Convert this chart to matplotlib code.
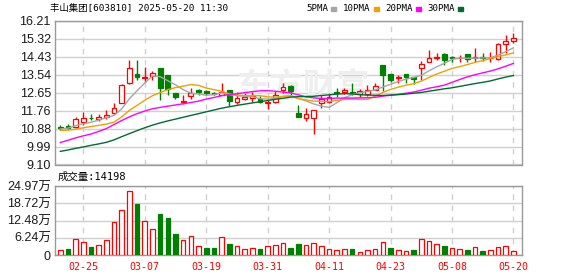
import numpy as np
import matplotlib
matplotlib.use("Agg")
import matplotlib.pyplot as plt
from matplotlib.patches import Rectangle

# trading days shown (2025)
dates = ['02-20', '02-21', '02-24', '02-25', '02-26', '02-27', '02-28',
         '03-03', '03-04', '03-05', '03-06', '03-07', '03-10', '03-11', '03-12', '03-13', '03-14',
         '03-17', '03-18', '03-19', '03-20', '03-21', '03-24', '03-25', '03-26', '03-27', '03-28',
         '03-31', '04-01', '04-02', '04-03', '04-07', '04-08', '04-09', '04-10', '04-11',
         '04-14', '04-15', '04-16', '04-17', '04-18', '04-21', '04-22', '04-23', '04-24', '04-25',
         '04-28', '04-29', '04-30', '05-06', '05-07', '05-08', '05-09', '05-12', '05-13', '05-14',
         '05-15', '05-16', '05-19', '05-20']

opens = [10.95, 11.00, 10.94, 11.19, 11.41, 11.36, 11.47, 11.63, 12.17, 13.13,
         13.58, 13.40, 13.48, 13.87, 13.53, 12.62, 12.20, 12.51, 12.80, 12.75,
         12.63, 12.55, 12.78, 12.22, 12.36, 12.40, 12.35, 12.15, 12.22, 12.80,
         12.98, 11.65, 11.42, 11.38, 12.15, 12.18, 12.68, 12.70, 12.70, 12.58,
         12.57, 12.81, 14.02, 13.58, 13.38, 13.56, 13.42, 13.86, 14.20, 14.38,
         14.57, 14.43, 14.37, 14.56, 14.40, 14.43, 14.37, 14.31, 15.05, 15.21]
highs = [11.06, 11.10, 11.47, 11.71, 11.58, 11.58, 11.80, 12.17, 13.07, 14.30,
         14.27, 13.93, 13.73, 13.90, 13.55, 12.64, 12.54, 12.91, 12.82, 12.78,
         12.70, 13.15, 12.80, 12.70, 12.63, 12.68, 12.50, 12.28, 12.72, 13.15,
         13.02, 12.03, 11.89, 11.80, 12.55, 12.62, 12.88, 12.88, 13.15, 12.85,
         13.02, 13.12, 14.05, 13.60, 13.53, 13.58, 13.45, 14.25, 14.78, 14.63,
         14.62, 14.48, 14.52, 14.58, 14.88, 14.64, 14.69, 15.10, 15.53, 15.62]
lows = [10.81, 10.86, 10.89, 11.06, 11.29, 11.26, 11.34, 11.58, 12.15, 13.10,
        13.29, 13.21, 13.31, 12.30, 12.54, 12.33, 12.12, 12.33, 12.54, 12.55,
        12.55, 12.52, 11.98, 12.10, 12.29, 12.22, 12.14, 11.85, 12.15, 12.62,
        12.55, 11.45, 11.26, 10.62, 11.90, 12.14, 12.45, 12.58, 12.52, 12.45,
        12.50, 12.78, 12.75, 13.17, 13.12, 13.15, 13.10, 13.30, 14.18, 14.30,
        14.05, 14.20, 14.20, 14.18, 14.18, 14.23, 14.18, 14.28, 14.64, 15.10]
closes = [10.92, 10.90, 11.34, 11.40, 11.38, 11.46, 11.54, 11.88, 13.05, 13.87,
          13.45, 13.43, 13.63, 12.88, 12.84, 12.46, 12.23, 12.66, 12.70, 12.62,
          12.60, 12.70, 12.25, 12.40, 12.46, 12.50, 12.18, 12.18, 12.52, 12.95,
          12.72, 11.47, 11.60, 11.78, 12.36, 12.42, 12.65, 12.78, 12.66, 12.72,
          12.81, 12.99, 13.54, 13.29, 13.42, 13.42, 13.36, 14.10, 14.40, 14.41,
          14.30, 14.36, 14.39, 14.35, 14.43, 14.36, 14.40, 15.05, 15.23, 15.37]

# volume in 万 (10k shares); 1 = red (up), 0 = green (down)
volume = [1.81, 2.17, 5.67, 4.70, 2.90, 3.50, 5.43, 11.82, 16.16, 23.04,
          18.46, 12.18, 9.29, 14.84, 13.39, 7.60, 5.31, 6.76, 3.14, 2.53,
          2.53, 6.39, 3.98, 3.38, 2.05, 2.41, 2.05, 3.38, 3.50, 4.22,
          2.53, 3.98, 3.50, 4.34, 3.26, 2.17, 1.81, 2.17, 2.17, 1.09,
          1.81, 2.17, 4.70, 2.53, 1.81, 1.45, 1.81, 5.79, 5.19, 3.98,
          3.26, 2.53, 2.17, 1.81, 2.77, 1.45, 1.81, 2.77, 3.14, 1.42]
vol_up = [1, 0, 1, 1, 0, 1, 1, 1, 1, 1, 0, 1, 1, 0, 0, 0, 1, 1, 1, 0,
          0, 1, 0, 1, 1, 1, 0, 1, 1, 1, 0, 0, 1, 1, 1, 1, 1, 1, 0, 1,
          1, 1, 1, 0, 1, 1, 0, 1, 1, 1, 0, 1, 1, 0, 1, 0, 1, 1, 1, 1]

ma5 = [10.86, 10.90, 11.03, 11.12, 11.19, 11.30, 11.42, 11.53, 11.86, 12.36,
       12.76, 13.14, 13.49, 13.45, 13.25, 13.05, 12.81, 12.63, 12.59, 12.53,
       12.56, 12.65, 12.56, 12.51, 12.48, 12.46, 12.36, 12.34, 12.37, 12.47,
       12.51, 12.37, 12.25, 12.10, 11.99, 11.93, 12.16, 12.40, 12.57, 12.65,
       12.72, 12.79, 12.94, 13.07, 13.21, 13.33, 13.41, 13.52, 13.74, 13.94,
       14.11, 14.31, 14.37, 14.36, 14.37, 14.38, 14.39, 14.52, 14.69, 14.88]
ma10 = [10.79, 10.80, 10.85, 10.92, 10.98, 11.04, 11.10, 11.20, 11.46, 11.78,
        12.03, 12.28, 12.51, 12.66, 12.81, 12.91, 12.98, 13.06, 13.02, 12.89,
        12.81, 12.73, 12.60, 12.55, 12.51, 12.51, 12.51, 12.45, 12.44, 12.48,
        12.49, 12.37, 12.30, 12.24, 12.23, 12.22, 12.27, 12.33, 12.34, 12.32,
        12.33, 12.48, 12.67, 12.82, 12.93, 13.03, 13.10, 13.23, 13.41, 13.58,
        13.72, 13.86, 13.95, 14.05, 14.16, 14.25, 14.35, 14.45, 14.53, 14.63]
ma20 = [10.19, 10.30, 10.42, 10.52, 10.61, 10.74, 10.88, 11.08, 11.28, 11.46,
        11.62, 11.75, 11.86, 11.93, 11.99, 12.05, 12.11, 12.17, 12.24, 12.34,
        12.42, 12.51, 12.56, 12.61, 12.66, 12.71, 12.75, 12.76, 12.73, 12.69,
        12.65, 12.55, 12.45, 12.40, 12.37, 12.37, 12.39, 12.39, 12.39, 12.40,
        12.41, 12.43, 12.49, 12.53, 12.58, 12.63, 12.69, 12.78, 12.88, 12.95,
        13.03, 13.17, 13.31, 13.44, 13.55, 13.64, 13.73, 13.84, 13.97, 14.11]
ma30 = [9.75, 9.82, 9.90, 9.97, 10.05, 10.12, 10.20, 10.32, 10.48, 10.63,
        10.78, 10.92, 11.05, 11.16, 11.26, 11.35, 11.44, 11.53, 11.62, 11.71,
        11.80, 11.89, 11.96, 12.03, 12.09, 12.15, 12.21, 12.27, 12.33, 12.38,
        12.44, 12.46, 12.47, 12.48, 12.52, 12.55, 12.59, 12.61, 12.60, 12.56,
        12.54, 12.53, 12.52, 12.54, 12.56, 12.59, 12.63, 12.67, 12.73, 12.79,
        12.85, 12.90, 12.97, 13.04, 13.11, 13.17, 13.24, 13.34, 13.43, 13.51]

price_ticks = [9.10, 9.99, 10.88, 11.76, 12.65, 13.54, 14.43, 15.32, 16.21]
vol_ticks = [0, 6.24, 12.48, 18.72, 24.97]
date_ticks = ['02-25', '03-07', '03-19', '03-31', '04-11', '04-23', '05-08', '05-20']

ma_names = ['5PMA', '10PMA', '20PMA', '30PMA']
ma_colors = ['#a6a6a6', '#f0a000', '#ff00ff', '#006b33']

RED = '#ff0000'
GREEN = '#008000'
GRID = '#d0d0d0'
MONO = ['DejaVu Sans Mono', 'Noto Sans CJK SC']

plt.rcParams['font.family'] = ['Liberation Sans', 'Noto Sans CJK SC']

W, H = 578, 276
fig = plt.figure(figsize=(W / 100, H / 100), dpi=100)


def rect(l, t, r, b):
    return [l / W, 1 - b / H, (r - l) / W, (b - t) / H]


ax = fig.add_axes(rect(55, 21, 522, 164.5))
axv = fig.add_axes(rect(55, 186, 522, 255))

x = np.arange(len(dates))
o = np.array(opens)
h = np.array(highs)
l = np.array(lows)
c = np.array(closes)
up = c >= o
col = np.where(up, RED, GREEN)

# candles
ax.vlines(x, l, h, colors=col, lw=1, zorder=3)
body_h = np.maximum(np.abs(c - o), 0.006)
ax.bar(x, body_h, bottom=np.minimum(o, c), width=0.62,
       color=np.where(up, 'white', GREEN), edgecolor=col, lw=0.9, zorder=4)

for vals, colr in zip([ma5, ma10, ma20, ma30], ma_colors):
    ax.plot(x, vals, color=colr, lw=1, zorder=5)

# watermark
ax.text(0.53, 0.53, '东方财富', transform=ax.transAxes, fontsize=24,
        color='#eeeeee', fontweight='bold', family='Noto Sans CJK SC',
        ha='center', va='center', zorder=1)

# volume
vu = np.array(vol_up) == 1
axv.bar(x, volume, width=0.6, color=np.where(vu, 'white', GREEN),
        edgecolor=np.where(vu, RED, GREEN), lw=0.9, zorder=3)

tick_idx = [dates.index(d) for d in date_ticks]
for a in (ax, axv):
    a.set_xlim(-0.69, 60.12)
    for i in tick_idx:
        a.axvline(i, color=GRID, lw=1, ls=(0, (4, 4)), zorder=0)
    a.grid(axis='y', color=GRID, lw=1, ls='-', zorder=0)
    a.set_axisbelow(True)
    for s in a.spines.values():
        s.set_color('#999999')
        s.set_linewidth(1)
    a.tick_params(length=0)

ax.set_ylim(price_ticks[0], price_ticks[-1])
ax.set_yticks(price_ticks)
ax.set_yticklabels([f'{v:.2f}' for v in price_ticks])
ax.tick_params(axis='y', pad=3, labelsize=9, labelcolor='#1a1a1a')
ax.set_xticks([])

axv.set_ylim(0, vol_ticks[-1])
axv.set_yticks(vol_ticks)
axv.set_yticklabels(['0' if v == 0 else f'{v:.2f}万' for v in vol_ticks])
axv.tick_params(axis='y', pad=3, labelsize=9, labelcolor='#1a1a1a')
axv.set_xticks(tick_idx)
axv.set_xticklabels(date_ticks, color=RED, fontsize=7.2, family=MONO)
axv.tick_params(axis='x', pad=5)

# header texts
fig.text(50 / W, 1 - 8.5 / H, '丰山集团[603810] 2025-05-20 11:30', family=MONO,
         fontsize=6.75, ha='left', va='center')
leg_x = [306, 343, 385, 427]
for name, colr, lx in zip(ma_names, ma_colors, leg_x):
    fig.text(lx / W, 1 - 8.5 / H, name, family=MONO, fontsize=6.6,
             ha='left', va='center')
    sq_x = lx + 5.5 * len(name) + 3
    fig.patches.append(Rectangle((sq_x / W, 1 - 10.5 / H), 5 / W, 4 / H,
                                 transform=fig.transFigure, color=colr))

fig.text(58 / W, 1 - 177 / H, f'成交量:{14198}', family=MONO, fontsize=7.5,
         ha='left', va='center')

fig.savefig('out.png', dpi=100)
